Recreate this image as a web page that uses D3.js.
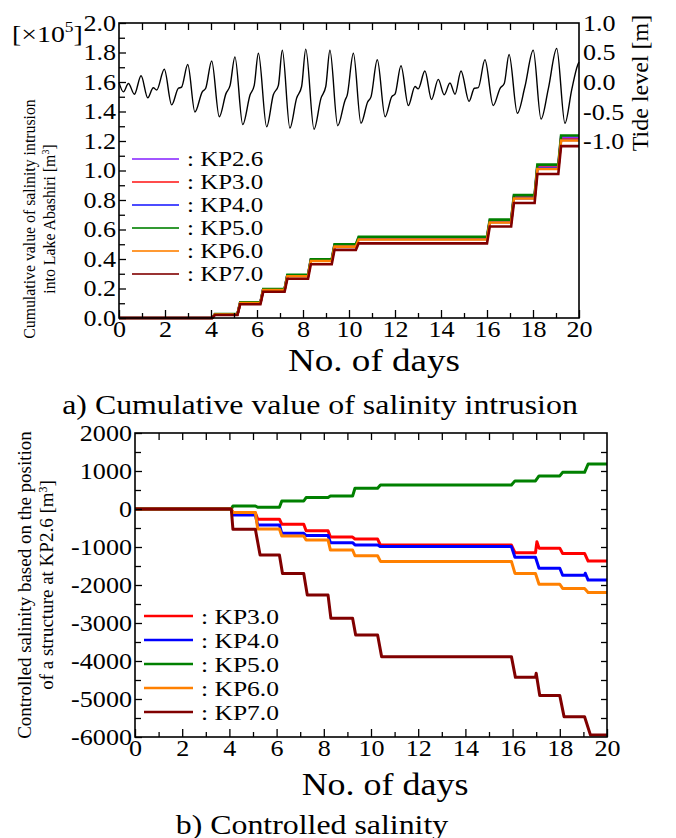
<!DOCTYPE html>
<html>
<head>
<meta charset="utf-8">
<script src="https://cdn.jsdelivr.net/npm/d3@7"></script>
<style>
  body { margin: 0; background: #fff; }
  svg text { font-family: "Liberation Serif", "Times New Roman", serif; fill: #000; }
</style>
</head>
<body>
<svg id="chart" width="676" height="838" font-family="Liberation Serif"></svg>
<script>
// ---- data ----
const dayTicks = [0, 2, 4, 6, 8, 10, 12, 14, 16, 18, 20];
const cumTicks = [0, 0.2, 0.4, 0.6, 0.8, 1.0, 1.2, 1.4, 1.6, 1.8, 2.0];
const tideTicks = [-1.0, -0.5, 0.0, 0.5, 1.0];
const ctrlTicks = [-6000, -5000, -4000, -3000, -2000, -1000, 0, 1000, 2000];

// tide level [m] : turning points of the curve
const tideDay = [0, 0.19, 0.41, 0.67, 0.96, 1.25, 1.49, 1.64, 1.97, 2.29, 2.58, 2.72, 2.99, 3.30, 3.62, 3.77,
  4.03, 4.36, 4.65, 4.83, 5.04, 5.38, 5.70, 5.88, 6.06, 6.42, 6.71, 6.93, 7.10, 7.43, 7.72, 7.94,
  8.12, 8.48, 8.78, 8.99, 9.17, 9.51, 9.83, 9.92, 10.19, 10.52, 10.81, 10.96, 11.23, 11.57, 11.86, 12.0,
  12.26, 12.58, 12.87, 13.01, 13.30, 13.59, 13.88, 14.14, 14.39, 14.61, 14.87, 15.22, 15.45, 15.62,
  15.91, 16.27, 16.57, 16.75, 16.96, 17.32, 17.65, 18.01, 18.35, 18.67, 19.03, 19.39, 19.68, 19.94, 20];
const tideLevel = [0.0, -0.16, -0.02, -0.20, 0.11, -0.26, -0.09, -0.13, 0.22, -0.38, -0.10, -0.08, 0.30, -0.50, -0.16, -0.10,
  0.36, -0.58, -0.19, -0.05, 0.43, -0.71, -0.21, -0.05, 0.49, -0.75, -0.21, -0.05, 0.54, -0.77, -0.27, -0.07,
  0.56, -0.79, -0.27, -0.07, 0.54, -0.73, -0.30, -0.22, 0.49, -0.69, -0.33, -0.24, 0.38, -0.58, -0.24, -0.20,
  0.28, -0.39, -0.07, -0.11, 0.19, -0.29, 0.05, -0.21, -0.01, -0.20, 0.19, -0.32, -0.10, -0.09,
  0.38, -0.39, -0.10, -0.02, 0.47, -0.52, -0.07, 0.54, -0.62, -0.10, 0.57, -0.69, -0.13, 0.29, 0.34];

// cumulative salinity intrusion [x10^5 m3], level after each step
const stepDay = [4.05, 5.15, 6.15, 7.2, 8.22, 9.25, 10.3, 16.0, 17.05, 18.07, 19.1];
const kp26 = [0, 0.025, 0.105, 0.195, 0.290, 0.395, 0.495, 0.545, 0.660, 0.825, 1.030, 1.225];
const kp30 = [0, 0.025, 0.104, 0.193, 0.287, 0.390, 0.488, 0.537, 0.652, 0.817, 1.019, 1.212];
const kp40 = [0, 0.024, 0.103, 0.192, 0.287, 0.389, 0.487, 0.536, 0.651, 0.813, 1.015, 1.207];
const kp50 = [0, 0.026, 0.106, 0.197, 0.293, 0.398, 0.500, 0.551, 0.667, 0.833, 1.040, 1.237];
const kp60 = [0, 0.024, 0.102, 0.190, 0.283, 0.386, 0.484, 0.532, 0.647, 0.810, 1.010, 1.203];
const kp70 = [0, 0.020, 0.093, 0.178, 0.266, 0.364, 0.462, 0.506, 0.620, 0.780, 0.976, 1.165];

// controlled salinity relative to KP2.6 [m3], [day, value] vertices
const ctrl30 = [[0,0],[4.08,0],[4.15,-100],[5.1,-100],[5.2,-270],[6.12,-270],[6.22,-400],[7.15,-400],[7.25,-570],
  [8.18,-570],[8.28,-740],[9.22,-740],[9.32,-790],[10.28,-790],[10.4,-950],[15.95,-950],[16.1,-1150],
  [16.97,-1150],[17.03,-860],[17.12,-1030],[18.0,-1030],[18.12,-1170],[19.05,-1170],[19.2,-1370],[20,-1370]];
const ctrl40 = [[0,0],[4.08,0],[4.15,-160],[5.1,-160],[5.2,-420],[6.12,-420],[6.22,-640],[7.15,-640],[7.25,-700],
  [8.18,-700],[8.28,-885],[9.22,-885],[9.32,-945],[10.28,-945],[10.4,-990],[15.95,-990],[16.1,-1270],
  [16.97,-1270],[17.12,-1560],[18.0,-1560],[18.12,-1745],[19.05,-1745],[19.08,-1690],[19.2,-1870],[20,-1870]];
const ctrl50 = [[0,0],[4.08,0],[4.15,80],[5.1,80],[5.2,45],[6.12,45],[6.22,210],[7.15,210],[7.25,300],
  [8.18,300],[8.28,340],[9.22,340],[9.32,545],[10.28,545],[10.4,630],[15.95,630],[16.1,740],
  [16.97,740],[17.12,870],[18.0,870],[18.12,965],[19.05,965],[19.2,1185],[20,1185]];
const ctrl60 = [[0,0],[4.08,0],[4.15,-95],[5.1,-95],[5.2,-525],[6.12,-525],[6.22,-710],[7.15,-710],[7.25,-815],
  [8.18,-815],[8.28,-1080],[9.22,-1080],[9.32,-1230],[10.28,-1230],[10.4,-1380],[15.95,-1380],[16.1,-1695],
  [16.97,-1695],[17.12,-1980],[18.0,-1980],[18.12,-2090],[19.05,-2090],[19.2,-2195],[20,-2195]];
const ctrl70 = [[0,0],[4.08,0],[4.15,-535],[5.1,-535],[5.3,-1210],[6.12,-1210],[6.25,-1695],[7.15,-1695],[7.3,-2265],
  [8.18,-2265],[8.3,-2875],[9.22,-2875],[9.35,-3315],[10.28,-3315],[10.45,-3885],[15.95,-3885],[16.12,-4430],
  [16.97,-4430],[17.0,-4320],[17.15,-4910],[18.0,-4910],[18.18,-5465],[19.05,-5465],[19.3,-5950],[20,-5950]];

const cumSeries = [
  { name: ": KP2.6", color: "#8b2cff", v: kp26 },
  { name: ": KP3.0", color: "#ff2020", v: kp30 },
  { name: ": KP4.0", color: "#2020ff", v: kp40 },
  { name: ": KP5.0", color: "#008000", v: kp50 },
  { name: ": KP6.0", color: "#ff8000", v: kp60 },
  { name: ": KP7.0", color: "#800000", v: kp70 }
];
const ctrlSeries = [
  { name: ": KP3.0", color: "#ff0000", v: ctrl30 },
  { name: ": KP4.0", color: "#0000ff", v: ctrl40 },
  { name: ": KP5.0", color: "#008000", v: ctrl50 },
  { name: ": KP6.0", color: "#ff8000", v: ctrl60 },
  { name: ": KP7.0", color: "#800000", v: ctrl70 }
];

const FONT = "Liberation Serif";
const WIDE = 1.16;   // the figure's type is a wide Times
const svg = d3.select("#chart");

// move x/y into a transform so the glyphs can be widened
function widen(sel, k) {
  sel.each(function () {
    const t = d3.select(this);
    const x = +t.attr("x") || 0, y = +t.attr("y") || 0;
    t.attr("x", null).attr("y", null)
      .attr("transform", `translate(${x},${y}) scale(${k || WIDE},1)`);
  });
}

// turn step levels into a ramped step line
function stepPoints(levels) {
  const pts = [[0, levels[0]]];
  stepDay.forEach((t, i) => {
    pts.push([t, levels[i]]);
    pts.push([t + 0.12, levels[i + 1]]);
  });
  pts.push([20, levels[levels.length - 1]]);
  return pts;
}

function frameAxes(g, x, y, yMinor, yTicks, yFmt, L, R, T, B) {
  // bottom axis: labels + inward ticks
  g.append("g").attr("transform", `translate(0,${B})`)
    .call(d3.axisBottom(x).tickValues(dayTicks).tickSize(-8).tickPadding(3).tickFormat(d3.format("d")))
    .call(a => a.select(".domain").remove())
    .call(a => a.selectAll("text").style("font-size", "22.5px"));
  g.append("g").attr("transform", `translate(0,${B})`)
    .call(d3.axisBottom(x).tickValues(d3.range(1, 20, 2)).tickSize(-5).tickFormat(""))
    .call(a => a.select(".domain").remove());
  // top axis ticks
  g.append("g").attr("transform", `translate(0,${T})`)
    .call(d3.axisTop(x).tickValues(d3.range(1, 20)).tickSize(-7).tickFormat(""))
    .call(a => a.select(".domain").remove());
  // left axis
  g.append("g").attr("transform", `translate(${L},0)`)
    .call(d3.axisLeft(y).tickValues(yTicks).tickSize(-7).tickPadding(3).tickFormat(yFmt))
    .call(a => a.select(".domain").remove())
    .call(a => a.selectAll("text").style("font-size", "22.5px"));
  g.append("g").attr("transform", `translate(${L},0)`)
    .call(d3.axisLeft(y).tickValues(yMinor).tickSize(-6).tickFormat(""))
    .call(a => a.select(".domain").remove());
  g.selectAll(".tick line").attr("stroke", "#000").attr("stroke-width", 1.3);
  g.append("rect").attr("x", L).attr("y", T).attr("width", R - L).attr("height", B - T)
    .attr("fill", "none").attr("stroke", "#000").attr("stroke-width", 1.6);
}

// ================= a) cumulative value =================
{
  const L = 119, R = 579, T = 23, B = 318;
  const g = svg.append("g");
  const x = d3.scaleLinear().domain([0, 20]).range([L, R]);
  const y = d3.scaleLinear().domain([0, 2.0]).range([B, T]);
  const yt = d3.scaleLinear().domain([-1.0, 1.0]).range([141.7, T]);

  // tide curve
  const tide = tideDay.map((d, i) => [d, tideLevel[i]]);
  g.append("path")
    .attr("d", d3.line().x(d => x(d[0])).y(d => yt(d[1])).curve(d3.curveMonotoneX)(tide))
    .attr("fill", "none").attr("stroke", "#000").attr("stroke-width", 1.4);

  const line = d3.line().x(d => x(d[0])).y(d => y(d[1]));
  cumSeries.forEach(s => {
    g.append("path").attr("d", line(stepPoints(s.v)))
      .attr("fill", "none").attr("stroke", s.color).attr("stroke-width", 2.6);
  });

  frameAxes(g, x, y, d3.range(1, 20, 2).map(d => d / 10), cumTicks, d3.format(".1f"), L, R, T, B);

  // right tide axis (labels only)
  g.append("g").attr("transform", `translate(${R + 3},0)`)
    .call(d3.axisRight(yt).tickValues(tideTicks).tickSize(0).tickPadding(1).tickFormat(d => d3.format(".1f")(d).replace("−", "-")))
    .call(a => a.select(".domain").remove())
    .call(a => a.selectAll("text").style("font-size", "22.5px"));

  // legend
  cumSeries.forEach((s, i) => {
    const ly = 159 + i * 23;
    g.append("line").attr("x1", 132).attr("x2", 179).attr("y1", ly).attr("y2", ly)
      .attr("stroke", s.color).attr("stroke-width", 2).attr("opacity", 0.8);
    g.append("text").attr("class", "wide").attr("x", 187).attr("y", ly + 7).style("font-size", "21.5px").text(s.name);
  });

  const ex = g.append("text").attr("class", "wide").attr("x", 12).attr("y", 42).style("font-size", "24px").text("[×10");
  ex.append("tspan").attr("dy", -10).style("font-size", "15px").text("5");
  ex.append("tspan").attr("dy", 10).text("]");

  g.append("text").attr("transform", "translate(648,83) rotate(-90)").attr("text-anchor", "middle")
    .style("font-size", "24px").text("Tide level [m]");

  const yl = g.append("text").attr("transform", "translate(0,219) rotate(-90)")
    .attr("text-anchor", "middle").style("font-size", "15.8px");
  yl.append("tspan").attr("x", 0).attr("y", 35).text("Cumulative value of salinity intrusion");
  yl.append("tspan").attr("x", 0).attr("y", 55).text("into Lake Abashiri [m");
  yl.append("tspan").attr("dy", -6).style("font-size", "10px").text("3");
  yl.append("tspan").attr("dy", 6).text("]");

  g.append("text").attr("class", "wide").attr("x", (L + R) / 2 + 25).attr("y", 371).attr("text-anchor", "middle")
    .style("font-size", "32px").text("No. of days");
  g.append("text").attr("class", "wide cap").attr("x", 320).attr("y", 414).attr("text-anchor", "middle")
    .style("font-size", "27px").text("a) Cumulative value of salinity intrusion");
}

// ================= b) controlled salinity =================
{
  const L = 135, R = 607, T = 433, B = 737;
  const g = svg.append("g");
  const x = d3.scaleLinear().domain([0, 20]).range([L, R]);
  const y = d3.scaleLinear().domain([-6000, 2000]).range([B, T]);

  const line = d3.line().x(d => x(d[0])).y(d => y(d[1]));
  ctrlSeries.forEach(s => {
    g.append("path").attr("d", line(s.v))
      .attr("fill", "none").attr("stroke", s.color).attr("stroke-width", 3).attr("stroke-linejoin", "round");
  });

  frameAxes(g, x, y, d3.range(-5500, 2000, 1000), ctrlTicks, d => String(d), L, R, T, B);
  // right side inward ticks
  g.append("g").attr("transform", `translate(${R},0)`)
    .call(d3.axisRight(y).tickValues(d3.range(-5500, 2000, 500)).tickSize(-6).tickFormat(""))
    .call(a => a.select(".domain").remove())
    .call(a => a.selectAll(".tick line").attr("stroke", "#000").attr("stroke-width", 1.3));

  ctrlSeries.forEach((s, i) => {
    const ly = 616 + i * 24;
    g.append("line").attr("x1", 144).attr("x2", 193).attr("y1", ly).attr("y2", ly)
      .attr("stroke", s.color).attr("stroke-width", 2.5);
    g.append("text").attr("class", "wide").attr("x", 201).attr("y", ly + 8).style("font-size", "22px").text(s.name);
  });

  const yl = g.append("text").attr("transform", `translate(0,585) rotate(-90)`)
    .attr("text-anchor", "middle").style("font-size", "19px");
  yl.append("tspan").attr("x", 0).attr("y", 31).text("Controlled salinity based on the position");
  yl.append("tspan").attr("x", 0).attr("y", 53).text("of a structure at KP2.6 [m");
  yl.append("tspan").attr("dy", -6).style("font-size", "12px").text("3");
  yl.append("tspan").attr("dy", 6).text("]");

  g.append("text").attr("class", "wide").attr("x", 385).attr("y", 795).attr("text-anchor", "middle")
    .style("font-size", "31px").text("No. of days");
  g.append("text").attr("class", "wide cap").attr("x", 312).attr("y", 834).attr("text-anchor", "middle")
    .style("font-size", "27px").text("b) Controlled salinity");
}

// minus signs as plain hyphens, widen horizontal type
svg.selectAll(".tick text").text(function () { return this.textContent.replace("−", "-"); });
widen(svg.selectAll(".tick text"));
widen(svg.selectAll("text.wide:not(.cap)"));
widen(svg.selectAll("text.cap"), 1.18);
svg.selectAll("text").style("font-family", FONT);
</script>
</body>
</html>
